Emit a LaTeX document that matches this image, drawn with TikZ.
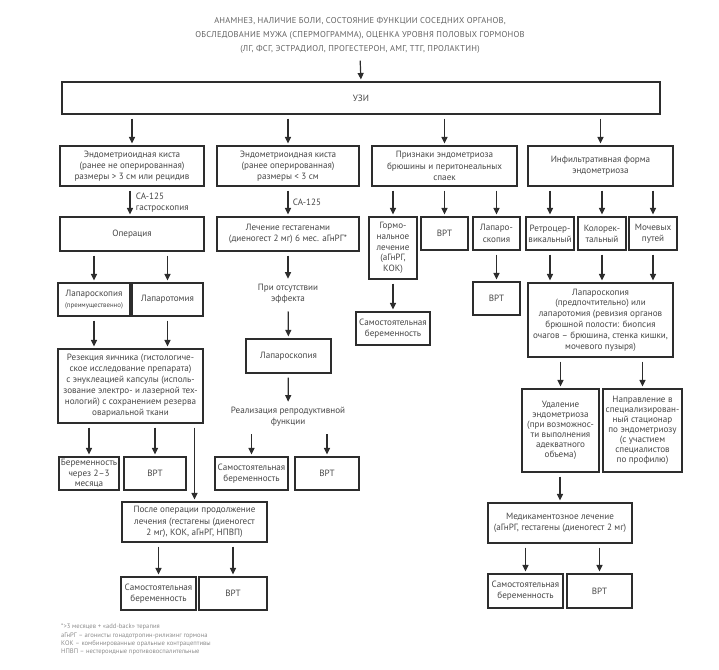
\documentclass[tikz,border=0pt]{standalone}
\usepackage{fontspec}
\setmainfont{PT Sans}
\usetikzlibrary{arrows.meta}

\begin{document}
\begin{tikzpicture}[x=1pt,y=-1pt,
        box/.style={draw=linegray,line width=1.1pt,align=center,inner sep=0pt,
            text=textgray,font=\fontsize{9.1}{11.3}\selectfont},
        sz/.style 2 args={minimum width=#1,minimum height=#2},
        note/.style={align=center,text=textgray,font=\fontsize{9.1}{11.3}\selectfont},
        arr/.style={draw=linegray,line width=1.2pt,-{Triangle[length=6.5pt,width=6pt]},
            shorten <=4pt,shorten >=2pt}]
        \definecolor{linegray}{RGB}{45,45,45}
        \definecolor{textgray}{RGB}{70,70,70}
        \useasboundingbox (0,0) rectangle (719,669);

        % header
        \node[note,text=textgray!85,font=\fontsize{8.5}{14}\selectfont\addfontfeatures{LetterSpace=3}] (hdr) at (360,35)
            {АНАМНЕЗ, НАЛИЧИЕ БОЛИ, СОСТОЯНИЕ ФУНКЦИИ СОСЕДНИХ ОРГАНОВ,\\
             ОБСЛЕДОВАНИЕ МУЖА (СПЕРМОГРАММА), ОЦЕНКА УРОВНЯ ПОЛОВЫХ ГОРМОНОВ\\
             (ЛГ, ФСГ, ЭСТРАДИОЛ, ПРОГЕСТЕРОН, АМГ, ТТГ, ПРОЛАКТИН)};
        \node[box,sz={598}{32}] (uzi) at (361,98) {УЗИ};
        \draw[arr] (hdr.south) -- (uzi.north);

        % first row
        \node[box,sz={144}{40}] (a1) at (132,166)
            {Эндометриоидная киста\\(ранее не оперированная)\\размеры > 3 см или рецидив};
        \node[box,sz={142}{40}] (b1) at (288,166)
            {Эндометриоидная киста\\(ранее оперированная)\\размеры < 3 см};
        \node[box,sz={145}{40}] (c1) at (444.5,166)
            {Признаки эндометриоза\\брюшины и перитонеальных\\спаек};
        \node[box,sz={145}{40}] (d1) at (600.5,166)
            {Инфильтративная форма\\эндометриоза};
        \foreach \n in {a1,b1,c1,d1}
            \draw[arr] (uzi.south -| \n) -- (\n.north);

        % second row
        \node[box,sz={144}{34}] (a2) at (132,234) {Операция};
        \node[box,sz={142}{34}] (b2) at (288,234)
            {Лечение гестагенами\\(диеногест 2 мг) 6 мес. аГнРГ*};
        \node[box,sz={48}{62},font=\fontsize{9.1}{10.8}\selectfont] (c2a) at (393,248)
            {Гормо-\\нальное\\лечение\\(аГнРГ,\\КОК)};
        \node[box,sz={47}{33}] (c2b) at (444.5,233.5) {ВРТ};
        \node[box,sz={47}{33}] (c2c) at (496.5,233.5) {Лапаро-\\скопия};
        \node[box,sz={48}{33}] (d2a) at (550,233.5) {Ретроцер-\\викальный};
        \node[box,sz={48}{33}] (d2b) at (602,233.5) {Колорек-\\тальный};
        \node[box,sz={48}{33}] (d2c) at (653,233.5) {Мочевых\\путей};

        \draw[arr] (a1.south -| 130,0) -- (a2.north -| 130,0)
            node[note,right,align=left,midway,xshift=2pt,yshift=-1pt] {CA-125\\гастроскопия};
        \draw[arr] (b1) -- (b2) node[note,right,midway,xshift=1pt,yshift=-1pt] {CA-125};
        \foreach \n in {c2a,c2b,c2c}
            \draw[arr] (c1.south -| \n) -- (\n.north);
        \foreach \n in {d2a,d2b,d2c}
            \draw[arr] (d1.south -| \n) -- (\n.north);

        % third row
        \node[box,sz={72}{33}] (a3a) at (94,299.5)
            {Лапароскопия\\{\fontsize{6.8}{8}\selectfont(преимущественно)}};
        \node[box,sz={71}{33}] (a3b) at (167.5,299.5) {Лапаротомия};
        \node[note] (b3) at (288,294) {При отсутствии\\эффекта};
        \node[box,sz={74}{33}] (c3a) at (393,328.5) {Самостоятельная\\беременность};
        \node[box,sz={47}{33}] (c3b) at (496.5,298.5) {ВРТ};
        \node[box,sz={145}{74},font=\fontsize{9.1}{10.8}\selectfont] (d3) at (600.5,320)
            {Лапароскопия\\(предпочтительно) или\\лапаротомия (ревизия органов\\брюшной полости: биопсия\\очагов – брюшина, стенка кишки,\\мочевого пузыря)};
        \foreach \n in {a3a,a3b}
            \draw[arr] (a2.south -| \n) -- (\n.north);
        \draw[arr] (b2) -- (b3);
        \draw[arr] (c2a) -- (c3a);
        \draw[arr] (c2c) -- (c3b);
        \foreach \n in {d2a,d2b,d2c}
            \draw[arr] (\n.south) -- (d3.north -| \n);

        % fourth row
        \node[box,sz={145}{74},font=\fontsize{9.1}{11}\selectfont] (a4) at (130.5,386)
            {Резекция яичника (гистологиче-\\ское исследование препарата)\\с энуклеацией капсулы (исполь-\\зование электро- и лазерной тех-\\нологий) с сохранением резерва\\овариальной ткани};
        \node[box,sz={85}{34}] (b4) at (288.5,356) {Лапароскопия};
        \node[note] (b5) at (288,417) {Реализация репродуктивной\\функции};
        \node[box,sz={77}{83},font=\fontsize{9.1}{10}\selectfont] (d4a) at (560.5,430.5)
            {Удаление\\эндометриоза\\(при возможнос-\\ти выполнения\\адекватного\\объема)};
        \node[box,sz={79}{83},font=\fontsize{9.1}{10}\selectfont] (d4b) at (642.5,430.5)
            {Направление в\\специализирован-\\ный стационар\\по эндометриозу\\(с участием\\специалистов\\по профилю)};
        \foreach \n in {a3a,a3b}
            \draw[arr] (\n.south) -- (a4.north -| \n);
        \draw[arr] (b3) -- (b4);
        \draw[arr] (b4) -- (b5);
        \foreach \n in {d4a,d4b}
            \draw[arr] (d3.south -| \n) -- (\n.north);

        % fifth row
        \node[box,sz={60}{33},font=\fontsize{9.1}{10.5}\selectfont] (a5a) at (89,473.5)
            {Беременность\\через 2–3\\месяца};
        \node[box,sz={62}{33}] (a5b) at (155,473.5) {ВРТ};
        \node[box,sz={73}{33}] (b6a) at (251.5,473.5) {Самостоятельная\\беременность};
        \node[box,sz={64}{33}] (b6b) at (327,473.5) {ВРТ};
        \foreach \n in {a5a,a5b}
            \draw[arr] (a4.south -| \n) -- (\n.north);
        \foreach \n in {b6a,b6b}
            \draw[arr] (b5.south -| \n) -- (\n.north);

        % after operation / drug therapy
        \node[box,sz={145}{40}] (a6) at (194.5,522)
            {После операции продолжение\\лечения (гестагены (диеногест\\2 мг), КОК, аГнРГ, НПВП)};
        \node[box,sz={144}{40}] (d5) at (560,523)
            {Медикаментозное лечение\\(аГнРГ, гестагены (диеногест 2 мг)};
        \draw[arr] (a4.south -| a6) -- (a6.north);
        \draw[arr] (d4a.south -| d5) -- (d5.north);

        % outcomes
        \node[box,sz={75}{33}] (a7a) at (158.5,593.5) {Самостоятельная\\беременность};
        \node[box,sz={68}{33}] (a7b) at (233,593.5) {ВРТ};
        \node[box,sz={75}{34}] (d6a) at (525.5,591) {Самостоятельная\\беременность};
        \node[box,sz={65}{34}] (d6b) at (599.5,591) {ВРТ};
        \foreach \n in {a7a,a7b}
            \draw[arr] (a6.south -| \n) -- (\n.north);
        \foreach \n in {d6a,d6b}
            \draw[arr] (d5.south -| \n) -- (\n.north);

        % footnote
        \node[anchor=north west,align=left,inner sep=0pt,text=gray!90,
            font=\fontsize{6.6}{8.2}\selectfont] (fn) at (61,624)
            {*>3 месяцев + «add-back» терапия\\
             аГнРГ – агонисты гонадотропин-рилизинг гормона\\
             КОК – комбинированные оральные контрацептивы\\
             НПВП – нестероидные противовоспалительные};
\end{tikzpicture}
\end{document}
